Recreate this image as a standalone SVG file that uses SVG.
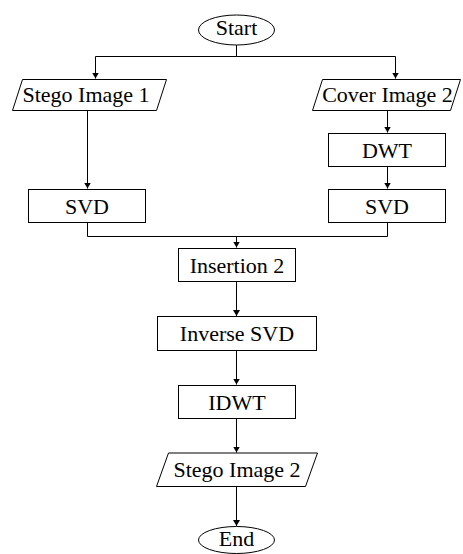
<svg xmlns="http://www.w3.org/2000/svg" width="463" height="554" viewBox="0 0 463 554">
<style>
.s{fill:#fff;stroke:#000;stroke-width:1}
.t{font-family:'Liberation Serif','Tinos','Times New Roman','DejaVu Serif',serif;font-size:22px;fill:#000;text-anchor:middle}
.c{fill:none;stroke:#000;stroke-width:1}
</style>
<defs>
<marker id="a" markerWidth="6" markerHeight="7" refX="6" refY="3.5" orient="auto" markerUnits="userSpaceOnUse">
<path d="M0,0 L6,3.5 L0,7 Z" fill="#000"/>
</marker>
</defs>
<g id="connectors">
<path class="c" d="M236.5,45 V56.5 H95.5 V78.5" marker-end="url(#a)"/>
<path class="c" d="M236.5,56.5 H395.5 V78.5" marker-end="url(#a)"/>
<path class="c" d="M87.5,110 V188.5" marker-end="url(#a)"/>
<path class="c" d="M387.5,110 V132.5" marker-end="url(#a)"/>
<path class="c" d="M387.5,167 V188.5" marker-end="url(#a)"/>
<path class="c" d="M87.5,223 V236.5 H387.5 V223"/>
<path class="c" d="M236.5,236.5 V247.5" marker-end="url(#a)"/>
<path class="c" d="M236.5,282 V316" marker-end="url(#a)"/>
<path class="c" d="M236.5,351 V384.5" marker-end="url(#a)"/>
<path class="c" d="M236.5,419 V452.5" marker-end="url(#a)"/>
<path class="c" d="M236.5,487 V526" marker-end="url(#a)"/>
</g>
<g id="start">
<ellipse class="s" cx="236.5" cy="30" rx="38" ry="15"/>
<text class="t" x="236.5" y="35">Start</text>
</g>
<g id="stego1">
<polygon class="s" points="22.5,79.5 166.5,79.5 156.5,110.5 12.5,110.5"/>
<text class="t" x="86" y="102">Stego Image 1</text>
</g>
<g id="cover2">
<polygon class="s" points="322.5,79.5 460.5,79.5 450.5,110.5 312.5,110.5"/>
<text class="t" x="387.5" y="102">Cover Image 2</text>
</g>
<g id="dwt">
<rect class="s" x="328.5" y="133.5" width="117" height="33"/>
<text class="t" x="387" y="157.5">DWT</text>
</g>
<g id="svd1">
<rect class="s" x="28.5" y="189.5" width="117" height="33"/>
<text class="t" x="87" y="213.5">SVD</text>
</g>
<g id="svd2">
<rect class="s" x="328.5" y="189.5" width="117" height="33"/>
<text class="t" x="387" y="213.5">SVD</text>
</g>
<g id="insertion2">
<rect class="s" x="178.5" y="248.5" width="117" height="33"/>
<text class="t" x="237" y="272.5">Insertion 2</text>
</g>
<g id="inversesvd">
<rect class="s" x="157.5" y="316.5" width="159" height="34"/>
<text class="t" x="237" y="341">Inverse SVD</text>
</g>
<g id="idwt">
<rect class="s" x="178.5" y="385.5" width="117" height="33"/>
<text class="t" x="237" y="409.5">IDWT</text>
</g>
<g id="stego2">
<polygon class="s" points="168.5,453 317.5,453 305.5,486.5 156.5,486.5"/>
<text class="t" x="237" y="477">Stego Image 2</text>
</g>
<g id="end">
<ellipse class="s" cx="236.5" cy="540" rx="38" ry="13.5"/>
<text class="t" x="236.5" y="546">End</text>
</g>
</svg>
